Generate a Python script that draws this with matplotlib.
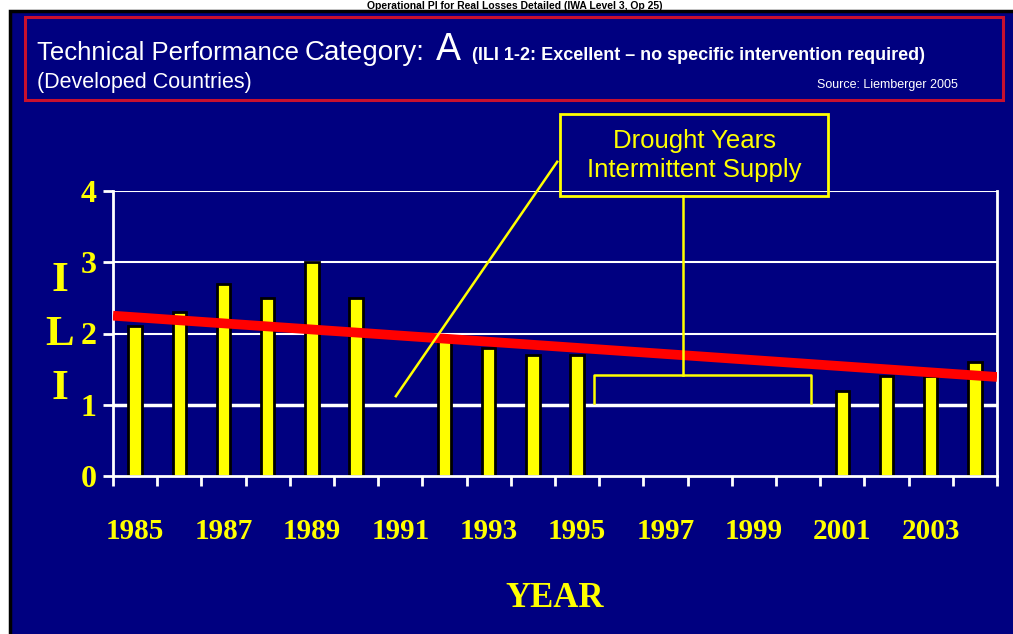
import matplotlib
matplotlib.use("Agg")
import matplotlib.pyplot as plt
import numpy as np
from matplotlib.patches import Rectangle

# ILI per year (None = no value, drought years / missing)
years = list(range(1985, 2005))
ili = [2.1, 2.3, 2.7, 2.5, 3.0, 2.5, None, 1.9, 1.8, 1.7,
       1.7, None, None, None, None, None, 1.2, 1.4, 1.4, 1.6]
trend_ends = [2.25, 1.39]          # trend value at left / right edge of the plot
label_years = [1985, 1987, 1989, 1991, 1993, 1995, 1997, 1999, 2001, 2003]
y_ticks = [0, 1, 2, 3, 4]

title = "Operational PI for Real Losses Detailed (IWA Level 3, Op 25)"
callout = "Drought Years\nIntermittent Supply"
source = "Source: Liemberger 2005"

NAVY = "#000080"
YELLOW = "#ffff00"
SANS = "Liberation Sans"
SERIF = "Liberation Serif"
W, H = 1013, 634


def fx(x):
    return x / W


def fy(y):
    return 1 - y / H


fig = plt.figure(figsize=(W / 100, H / 100), dpi=100)
fig.patch.set_facecolor("white")

# slide background and header box
fig.add_artist(Rectangle((fx(10), -0.05), 1.0, fy(11) + 0.05,
                         transform=fig.transFigure, facecolor=NAVY,
                         edgecolor="black", lw=2.5, zorder=0))
fig.add_artist(Rectangle((fx(25), fy(100)), fx(1003) - fx(25), fy(17) - fy(100),
                         transform=fig.transFigure, fill=False,
                         edgecolor="#c8102e", lw=2.2, zorder=1))

fig.text(fx(515), fy(1), title, ha="center", va="top", fontsize=7.5,
         weight="bold", family=SANS, color="black", zorder=5)

fig.text(fx(37), fy(60), "Technical Performance", fontsize=18.5, family=SANS,
         color="white", va="baseline")
fig.text(fx(305), fy(60), "Category:", fontsize=20, family=SANS,
         color="white", va="baseline")
fig.text(fx(436), fy(60), "A", fontsize=27, family=SANS,
         color="white", va="baseline")
fig.text(fx(472), fy(60), "(ILI 1-2: Excellent \u2013 no specific intervention required)",
         fontsize=13, weight="bold", family=SANS, color="white", va="baseline")
fig.text(fx(37), fy(88), "(Developed Countries)", fontsize=15.5, family=SANS,
         color="white", va="baseline")
fig.text(fx(958), fy(88), source, fontsize=9, family=SANS,
         color="white", va="baseline", ha="right")

ax = fig.add_axes([fx(113), fy(476), fx(997) - fx(113), fy(191) - fy(476)])
ax.set_facecolor(NAVY)
ax.set_xlim(1984.5, 2004.5)
ax.set_ylim(0, 4)

for v in y_ticks[1:]:
    ax.axhline(v, color="white", lw=2.5 if v == 1 else 1.5, zorder=1)

bx = [y for y, v in zip(years, ili) if v is not None]
bh = [v for v in ili if v is not None]
ax.bar(bx, bh, width=0.3, color=YELLOW, edgecolor="black", lw=2, zorder=2)

ax.plot(ax.get_xlim(), trend_ends, color="red", lw=7,
        solid_capstyle="butt", zorder=4)

# callout
ax.plot([1990.9, 1994.55], [1.12, 4.41], color=YELLOW, lw=1.8,
        clip_on=False, zorder=5)
ax.add_patch(Rectangle((1994.61, 3.93), 6.07, 1.15, fill=False,
                       edgecolor=YELLOW, lw=2, clip_on=False, zorder=5))
ax.text(1997.65, 4.5, callout, ha="center", va="center", fontsize=18.5,
        family=SANS, color=YELLOW, linespacing=1.3, zorder=6)
ax.plot([1997.4, 1997.4], [3.93, 1.42], color=YELLOW, lw=1.8,
        clip_on=False, zorder=5)
ax.plot([1995.38, 1995.38, 2000.29, 2000.29], [1.02, 1.42, 1.42, 1.02],
        color=YELLOW, lw=1.8, zorder=5)

for side in ["left", "right", "bottom"]:
    ax.spines[side].set_color("white")
    ax.spines[side].set_linewidth(2)
ax.spines["top"].set_visible(False)

ax.set_xticks(np.arange(1984.5, 2005, 1))
ax.set_xticks(label_years, [str(y) for y in label_years], minor=True)
ax.tick_params(axis="x", which="major", length=7, width=2, color="white",
               labelbottom=False)
ax.tick_params(axis="x", which="minor", length=0, pad=30, labelsize=21,
               labelcolor=YELLOW)
ax.set_yticks(y_ticks)
ax.tick_params(axis="y", length=7, width=2, color="white", pad=5,
               labelsize=23, labelcolor=YELLOW)
for lbl in ax.get_xticklabels(minor=True) + ax.get_yticklabels():
    lbl.set_fontfamily(SERIF)
    lbl.set_fontweight("bold")

ax.set_ylabel("I\nL\nI", rotation=0, fontsize=31, family=SERIF, weight="bold",
              color=YELLOW, ha="center", va="center", linespacing=1.55)
ax.yaxis.set_label_coords(-0.06, 0.495)
ax.set_xlabel("YEAR", fontsize=25, family=SERIF, weight="bold",
              color=YELLOW, va="center")
ax.xaxis.set_label_coords(0.5, -0.43)

fig.savefig("out.png", dpi=100, facecolor=fig.get_facecolor())
